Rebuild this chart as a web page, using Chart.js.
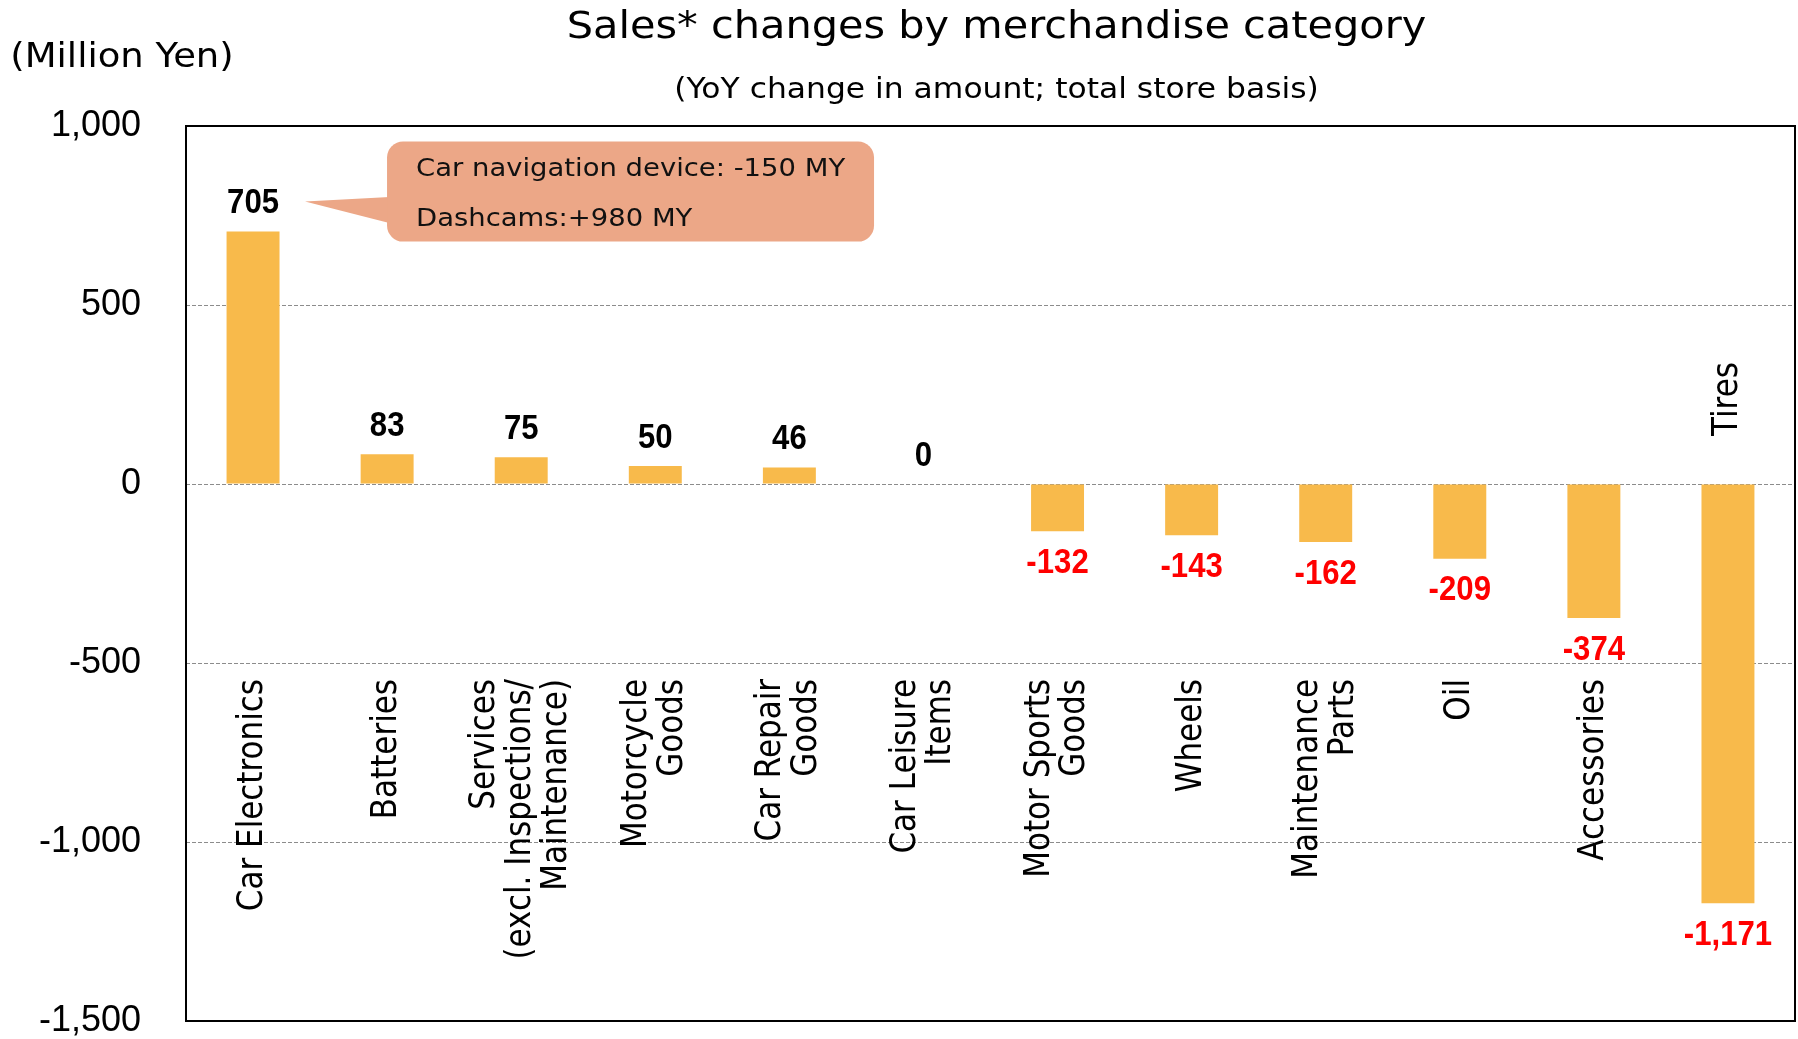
<!DOCTYPE html>
<html>
<head>
<meta charset="utf-8">
<style>
    html, body { margin: 0; padding: 0; background: #fff; overflow: hidden; }
    #salesChart { display: block; }
</style>
</head>
<body>
<canvas id="salesChart" width="1798" height="1039"></canvas>
<script src="https://cdn.jsdelivr.net/npm/chart.js"></script>
<script>
    // Data
    const categories = [
        'Car Electronics',
        'Batteries',
        ['Services', '(excl. Inspections/', 'Maintenance)'],
        ['Motorcycle', 'Goods'],
        ['Car Repair', 'Goods'],
        ['Car Leisure', 'Items'],
        ['Motor Sports', 'Goods'],
        'Wheels',
        ['Maintenance', 'Parts'],
        'Oil',
        'Accessories',
        'Tires'
    ];
    const changes = [705, 83, 75, 50, 46, 0, -132, -143, -162, -209, -374, -1171];
    const yTicks = [1000, 500, 0, -500, -1000, -1500];
    const calloutLines = ['Car navigation device: -150 MY', 'Dashcams:+980 MY'];
    const chartTitle = 'Sales* changes by merchandise category';
    const chartSubtitle = '(YoY change in amount; total store basis)';
    const unitLabel = '(Million Yen)';

    const BAR_COLOR = '#F8BA4B';
    const CALLOUT_COLOR = '#ECA787';
    const STRETCH = 1.12; // the source picture is a little wider than tall

    function drawText(ctx, text, x, y, opts) {
        ctx.save();
        ctx.translate(x, y);
        ctx.scale(opts.sx || 1, 1);
        if (opts.rotate) ctx.rotate(opts.rotate);
        ctx.font = opts.font;
        ctx.fillStyle = opts.color || '#000';
        ctx.textAlign = opts.align || 'center';
        ctx.textBaseline = opts.baseline || 'middle';
        const lines = Array.isArray(text) ? text : [text];
        const lh = opts.lineHeight || 0;
        lines.forEach((line, i) => {
            ctx.fillText(line, 0, (i - (lines.length - 1) / 2) * lh);
        });
        ctx.restore();
    }

    const overlayPlugin = {
        id: 'overlay',
        afterDraw(chart) {
            const ctx = chart.ctx;
            const area = chart.chartArea;
            const yScale = chart.scales.y;
            const meta = chart.getDatasetMeta(0);
            const zeroY = yScale.getPixelForValue(0);
            const midX = (area.left + area.right) / 2 + 6;

            // plot frame
            ctx.save();
            ctx.strokeStyle = '#000';
            ctx.lineWidth = 2;
            ctx.strokeRect(area.left, area.top, area.right - area.left, area.bottom - area.top);
            ctx.restore();

            // titles
            drawText(ctx, chartTitle, midX, 28, { font: '37px "DejaVu Sans"', sx: STRETCH });
            drawText(ctx, chartSubtitle, midX, 91, { font: '28px "DejaVu Sans"', sx: STRETCH });
            drawText(ctx, unitLabel, 122, 58, { font: '33px "DejaVu Sans"', sx: STRETCH });

            // value labels and category labels
            meta.data.forEach((bar, i) => {
                const v = changes[i];
                const labelY = v >= 0 ? bar.y - 28 : bar.y + 32;
                drawText(ctx, v.toLocaleString('en-US'), bar.x, labelY, {
                    font: 'bold 35px "Liberation Sans"',
                    sx: 0.89,
                    color: v >= 0 ? '#000' : '#FF0000'
                });

                const above = v < -1000; // long bar: put the name above the zero line
                drawText(ctx, categories[i], bar.x, above ? zeroY - 48 : zeroY + 195, {
                    font: '31px "DejaVu Sans"',
                    sx: STRETCH,
                    rotate: -Math.PI / 2,
                    align: above ? 'left' : 'right',
                    lineHeight: 32
                });
            });

            // callout next to the first bar
            const first = meta.data[0];
            const tipX = first.x + 52;
            const tipY = first.y - 30;
            const boxL = tipX + 82, boxT = tipY - 60, boxW = 487, boxH = 100, r = 16;
            ctx.save();
            ctx.fillStyle = CALLOUT_COLOR;
            ctx.beginPath();
            ctx.moveTo(tipX, tipY);
            ctx.lineTo(boxL + 12, tipY - 5);
            ctx.lineTo(boxL + 12, tipY + 24);
            ctx.closePath();
            ctx.fill();
            ctx.beginPath();
            ctx.roundRect(boxL, boxT, boxW, boxH, r);
            ctx.fill();
            ctx.restore();
            drawText(ctx, calloutLines[0], boxL + 29, tipY - 32, { font: '24.5px "DejaVu Sans"', sx: STRETCH, align: 'left', color: '#111' });
            drawText(ctx, calloutLines[1], boxL + 29, tipY + 18, { font: '24.5px "DejaVu Sans"', sx: STRETCH, align: 'left', color: '#111' });
        }
    };

    document.addEventListener('DOMContentLoaded', function() {
        const ctx = document.getElementById('salesChart');
        new Chart(ctx, {
            type: 'bar',
            data: {
                labels: categories,
                datasets: [{
                    data: changes,
                    backgroundColor: BAR_COLOR,
                    borderWidth: 0,
                    barPercentage: 0.395,
                    categoryPercentage: 1.0
                }]
            },
            options: {
                responsive: false,
                animation: false,
                layout: {
                    padding: { top: 126, right: 3, bottom: 18, left: 0 }
                },
                plugins: {
                    legend: { display: false },
                    tooltip: { enabled: false },
                    title: { display: false }
                },
                scales: {
                    x: { display: false },
                    y: {
                        min: -1500,
                        max: 1000,
                        afterBuildTicks: function(scale) {
                            scale.ticks = yTicks.map(v => ({ value: v }));
                        },
                        afterFit: function(scale) {
                            scale.width = 186;
                            // the tick padding is horizontal only here
                            scale.paddingTop = 0;
                            scale.paddingBottom = 0;
                        },
                        grid: {
                            color: function(c) {
                                const v = c.tick && c.tick.value;
                                return (v === 1000 || v === -1500) ? 'rgba(0,0,0,0)' : '#8c8c8c';
                            },
                            lineWidth: 1,
                            drawTicks: false
                        },
                        border: { display: false, dash: [4, 2] },
                        ticks: {
                            padding: 45,
                            color: '#000',
                            font: { family: 'Liberation Sans', size: 36, lineHeight: 1.0 },
                            callback: function(value) {
                                return Number(value).toLocaleString('en-US');
                            }
                        }
                    }
                }
            },
            plugins: [overlayPlugin]
        });
    });
</script>
</body>
</html>
